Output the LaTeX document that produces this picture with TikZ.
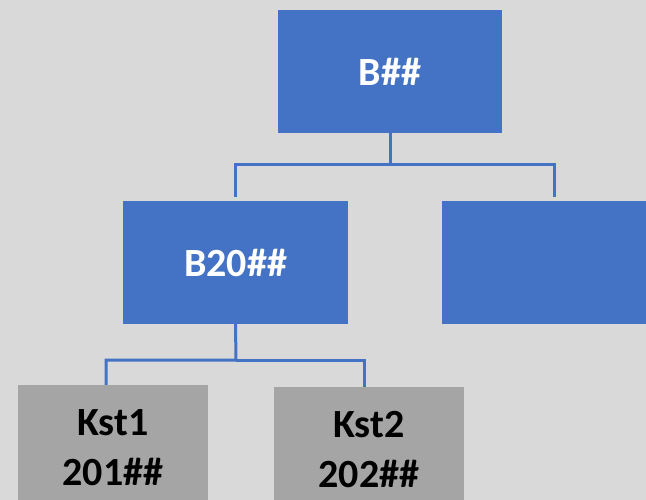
\documentclass[tikz,border=0pt]{standalone}
\usepackage{fontspec}
\setmainfont{Carlito}
\definecolor{bgray}{HTML}{D9D9D9}
\definecolor{oblue}{HTML}{4472C4}
\definecolor{ogray}{HTML}{A5A5A5}
\begin{document}
\begin{tikzpicture}[x=1pt,y=-1pt,
  bluebox/.style={rectangle, fill=oblue, inner sep=0pt, minimum width=224pt, minimum height=123pt,
    text=white, font=\fontsize{40}{50}\selectfont\bfseries},
  graybox/.style={rectangle, fill=ogray, inner sep=0pt, minimum width=190pt, minimum height=126pt,
    text=black, align=center, font=\fontsize{40}{50}\selectfont\bfseries},
  conn/.style={draw=oblue, line width=3pt}]
\useasboundingbox (0,0) rectangle (646,500);
\fill[bgray] (0,0) rectangle (646,500);
\clip (0,0) rectangle (646,500);
\node[bluebox] (top) at (390,71.5) {B\#\#};
\node[bluebox, minimum width=225pt] (b20) at (235.5,262.5) {B20\#\#};
\node[bluebox] (rb) at (554,262.5) {};
\node[graybox, minimum height=125pt] (k1) at (113,447.5) {Kst1\\201\#\#};
\node[graybox] (k2) at (369,450) {Kst2\\202\#\#};
\coordinate (j1) at (390,165);
\coordinate (j2) at (236,360);
\draw[conn, shorten >=4pt] (top.south) -- (j1) -| (b20.north);
\draw[conn, shorten >=4pt] (j1) -| (rb.north);
\draw[conn] (b20.south) -- (j2) -| ([xshift=-7pt]k1.north);
\draw[conn] (j2) -| ([xshift=-5pt]k2.north);
\end{tikzpicture}
\end{document}
